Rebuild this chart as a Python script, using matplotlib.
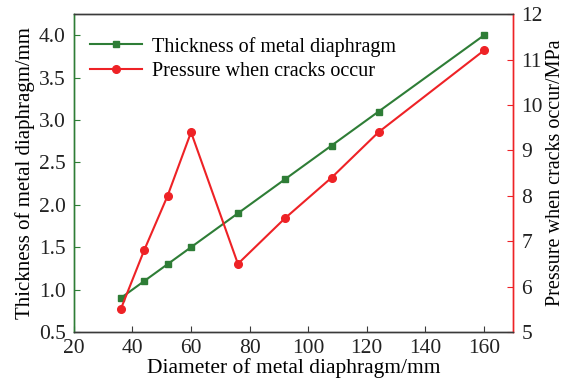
import matplotlib
matplotlib.use("Agg")
import matplotlib.pyplot as plt

plt.rcParams['font.family'] = ['Liberation Serif', 'DejaVu Serif']
plt.rcParams['mathtext.fontset'] = 'stix'

# diaphragm diameter (mm)
diameter = [36, 44, 52, 60, 76, 92, 108, 124, 160]
# thickness (mm) and crack pressure (MPa)
thickness = [0.9, 1.1, 1.3, 1.5, 1.9, 2.3, 2.7, 3.1, 4.0]
pressure = [5.5, 6.8, 8.0, 9.4, 6.5, 7.5, 8.4, 9.4, 11.2]

green = '#2e7d36'
red = '#ee2226'
dark = '#3a3a3a'

fig = plt.figure(figsize=(5.64, 3.82), dpi=100)
ax = fig.add_axes([0.131, 0.131, 0.779, 0.832])
ax2 = ax.twinx()

l1, = ax.plot(diameter, thickness, color=green, marker='s', markersize=5,
              linewidth=1.5, label='Thickness of metal diaphragm')
l2, = ax2.plot(diameter, pressure, color=red, marker='o', markersize=5.5,
               linewidth=1.5, label='Pressure when cracks occur')

ax.set_xlim(20, 170)
ax.set_ylim(0.5, 4.25)
ax2.set_ylim(5, 12)
ax.set_xticks([20, 40, 60, 80, 100, 120, 140, 160])
ax.set_yticks([0.5, 1.0, 1.5, 2.0, 2.5, 3.0, 3.5, 4.0])
ax2.set_yticks(range(5, 13))

ax.set_xlabel('Diameter of metal diaphragm/mm', fontsize=15.5, labelpad=0)
ax.set_ylabel('Thickness of metal diaphragm/mm', fontsize=15, labelpad=3)
ax2.set_ylabel('Pressure when cracks occur/MPa', fontsize=14.5, labelpad=2)

ax.tick_params(axis='x', direction='in', length=4, colors=dark, labelsize=15.5,
               labelcolor='#222222', pad=5)
ax.tick_params(axis='y', direction='in', length=4, colors=green, labelsize=15.5,
               labelcolor='#222222', pad=6)
ax2.tick_params(axis='y', direction='in', length=4, colors=red, labelsize=15.5,
                labelcolor='#222222', pad=6)

for a in (ax, ax2):
    a.spines['top'].set_color(dark)
    a.spines['bottom'].set_color(dark)
    a.spines['left'].set_color(green)
    a.spines['right'].set_color(red)
    for s in a.spines.values():
        s.set_linewidth(1.0)

ax.legend(handles=[l1, l2], loc='upper left', frameon=False, fontsize=14.5,
          handlelength=2.6, handletextpad=0.5, borderaxespad=0.4,
          labelspacing=0.25, bbox_to_anchor=(0.0, 0.98))

fig.savefig('out.png', dpi=100)
